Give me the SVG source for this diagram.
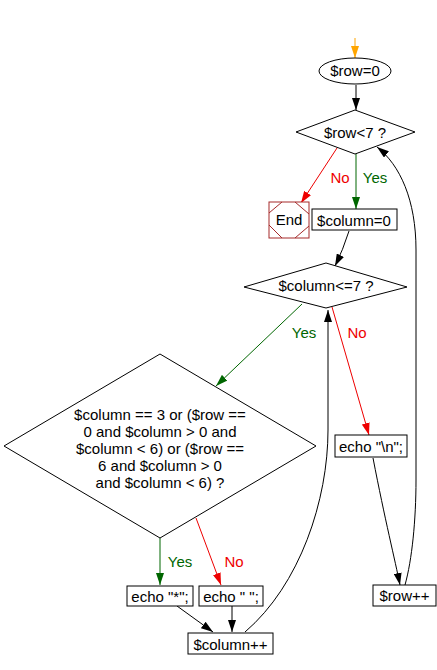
<svg xmlns="http://www.w3.org/2000/svg" width="437" height="670" viewBox="0 0 437 670">
<defs>
<style>
.s{fill:#fff;stroke:#000;stroke-width:1}
.t{font-family:"Liberation Sans",Arial,sans-serif;font-size:15px;fill:#000;text-anchor:middle}
.l{fill:none;stroke-width:1}
.k{stroke:#000}
.g{stroke:#006600}
.r{stroke:#ee0000}
.o{stroke:#ffa500}
.gt{fill:#006600}
.rt{fill:#ee0000}
</style>
<marker id="ak" markerUnits="userSpaceOnUse" viewBox="0 0 12 8" refX="12" refY="4" markerWidth="12" markerHeight="8" orient="auto"><path d="M0,0 L12,4 L0,8 z" fill="#000"/></marker>
<marker id="ag" markerUnits="userSpaceOnUse" viewBox="0 0 12 8" refX="12" refY="4" markerWidth="12" markerHeight="8" orient="auto"><path d="M0,0 L12,4 L0,8 z" fill="#006600"/></marker>
<marker id="ar" markerUnits="userSpaceOnUse" viewBox="0 0 12 8" refX="12" refY="4" markerWidth="12" markerHeight="8" orient="auto"><path d="M0,0 L12,4 L0,8 z" fill="#ee0000"/></marker>
<marker id="ao" markerUnits="userSpaceOnUse" viewBox="0 0 12 8" refX="12" refY="4" markerWidth="12" markerHeight="8" orient="auto"><path d="M0,0 L12,4 L0,8 z" fill="#ffa500"/></marker>
</defs>
<g id="connectors">
<path class="l o" d="M355,38 L355,58" marker-end="url(#ao)"/>
<path class="l k" d="M356,85 L356,110" marker-end="url(#ak)"/>
<path class="l r" d="M337,148 L301,203" marker-end="url(#ar)"/>
<path class="l g" d="M356,154 L356,209" marker-end="url(#ag)"/>
<path class="l k" d="M349,231 Q343,250 335,266" marker-end="url(#ak)"/>
<path class="l g" d="M302,304 L216,386" marker-end="url(#ag)"/>
<path class="l r" d="M332,307 L369,435" marker-end="url(#ar)"/>
<path class="l k" d="M245,632 C300,585 328,500 328,430 L328,310" marker-end="url(#ak)"/>
<path class="l g" d="M160,538 L160,585" marker-end="url(#ag)"/>
<path class="l r" d="M196,518 L221,585" marker-end="url(#ar)"/>
<path class="l k" d="M177,606 L213,632" marker-end="url(#ak)"/>
<path class="l k" d="M232,606 L232,632" marker-end="url(#ak)"/>
<path class="l k" d="M373,458 C385,520 395,560 400,585" marker-end="url(#ak)"/>
<path class="l k" d="M405,585 C412,560 416,520 416,480 L416,250 C416,200 400,165 377,147" marker-end="url(#ak)"/>
<text class="t rt" x="340" y="183">No</text>
<text class="t gt" x="375" y="183">Yes</text>
<text class="t gt" x="304" y="338">Yes</text>
<text class="t rt" x="357" y="338">No</text>
<text class="t gt" x="180" y="567">Yes</text>
<text class="t rt" x="234" y="567">No</text>
</g>
<g id="start"><ellipse class="s" cx="355" cy="71" rx="36" ry="13"/><text class="t" x="355" y="76">$row=0</text></g>
<g id="cond-row"><polygon class="s" points="355,110 415,132 355,154 296,132"/><text class="t" x="355" y="138">$row&lt;7 ?</text></g>
<g id="end"><rect x="269" y="202" width="40" height="36" fill="#fff" stroke="#a52a2a"/><path d="M269,213 L282,202 M295,202 L309,214 M269,225 L282,238 M295,238 L309,226" fill="none" stroke="#a52a2a"/><text class="t" x="289" y="225">End</text></g>
<g id="col-init"><rect class="s" x="312" y="209" width="85" height="21"/><text class="t" x="354" y="226">$column=0</text></g>
<g id="cond-col"><polygon class="s" points="326,263 407,287 326,308 244,287"/><text class="t" x="326" y="291">$column&lt;=7 ?</text></g>
<g id="cond-star"><polygon class="s" points="160,354 316,446 160,538 4,446"/>
<text class="t" x="160" y="420">$column == 3 or ($row ==</text>
<text class="t" x="160" y="437">0 and $column &gt; 0 and</text>
<text class="t" x="160" y="454">$column &lt; 6) or ($row ==</text>
<text class="t" x="160" y="471">6 and $column &gt; 0</text>
<text class="t" x="160" y="488">and $column &lt; 6) ?</text></g>
<g id="echo-star"><rect class="s" x="127" y="586" width="66" height="20"/><text class="t" x="160" y="602">echo "*";</text></g>
<g id="echo-space"><rect class="s" x="199" y="586" width="64" height="20"/><text class="t" x="231" y="602">echo " ";</text></g>
<g id="col-inc"><rect class="s" x="188" y="633" width="85" height="21"/><text class="t" x="230.5" y="650">$column++</text></g>
<g id="echo-nl"><rect class="s" x="335" y="435" width="72" height="22"/><text class="t" x="371" y="452">echo "\n";</text></g>
<g id="row-inc"><rect class="s" x="373" y="585" width="63" height="21"/><text class="t" x="404.5" y="601">$row++</text></g>
</svg>
